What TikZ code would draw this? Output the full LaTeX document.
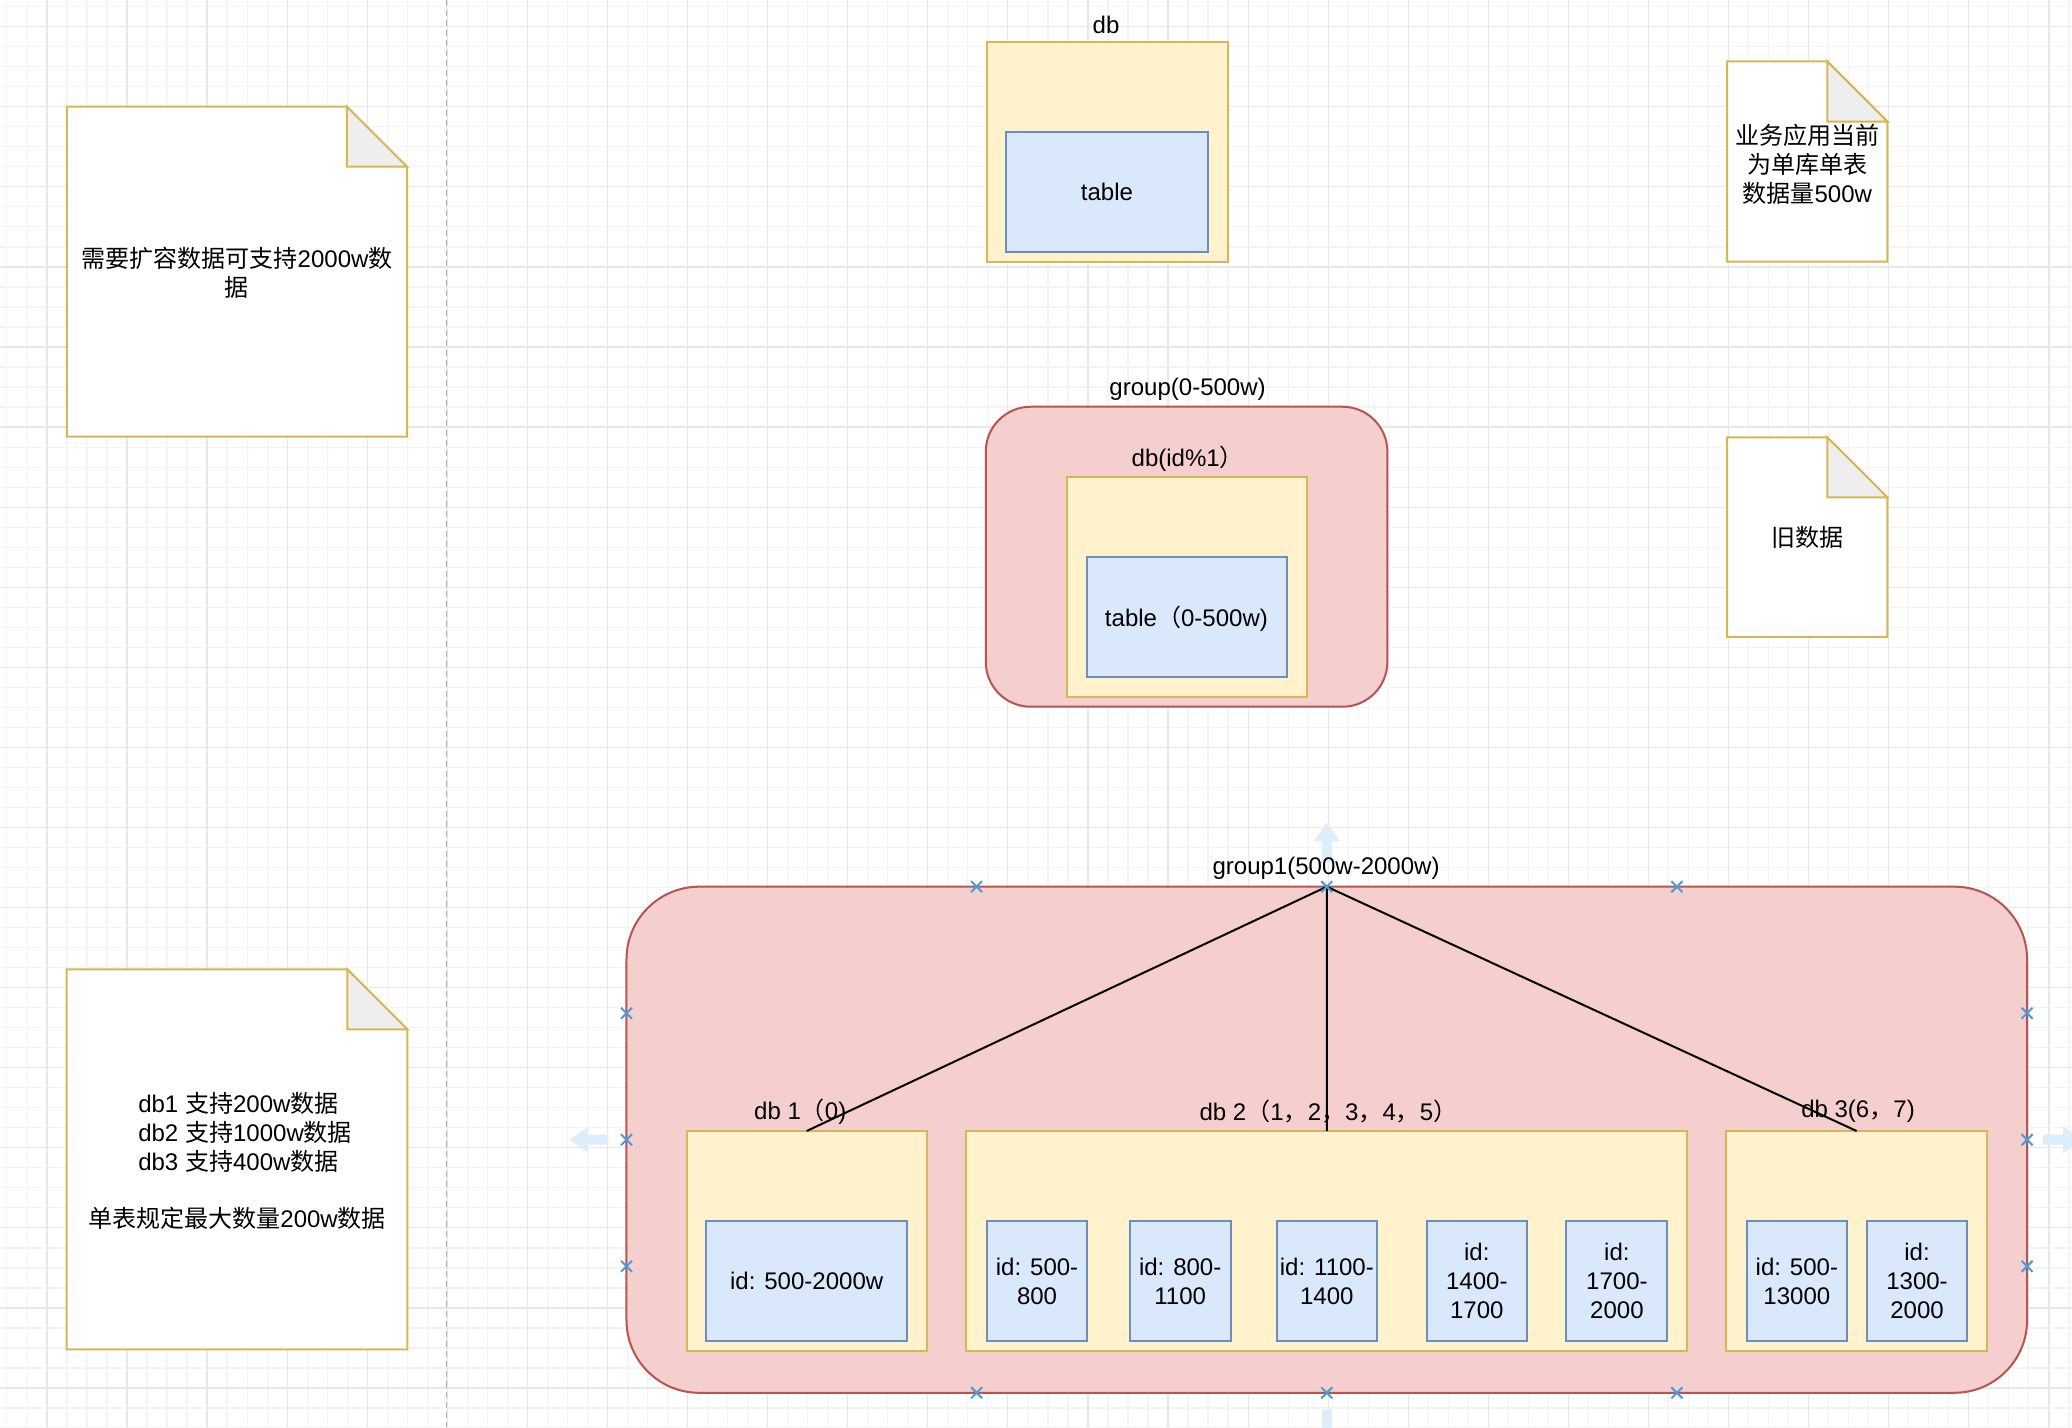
\documentclass[tikz,border=0pt]{standalone}
\usepackage{fontspec}
\setmainfont{Liberation Sans}
\newfontfamily\cjk{Noto Sans CJK SC}
\usetikzlibrary{shapes.misc,calc}
\definecolor{yfill}{HTML}{FFF2CC}
\definecolor{ystroke}{HTML}{D6B656}
\definecolor{bfill}{HTML}{DAE8FC}
\definecolor{bstroke}{HTML}{6C8EBF}
\definecolor{rfill}{HTML}{F4CFCD}
\definecolor{rstroke}{HTML}{B85450}
\definecolor{foldgray}{HTML}{EEEEEE}
\definecolor{gminorc}{HTML}{F4F4F4}
\definecolor{gmajorc}{HTML}{E8E8E8}
\definecolor{dashc}{HTML}{ADADAD}
\definecolor{xblue}{HTML}{4A9BDB}
\definecolor{hblue}{HTML}{DCEEFB}
\newcommand\zh[1]{{\cjk #1}}
\newcommand\notebox[1]{%
  \filldraw[notebody] (#1.south west) -- (#1.north west) -- ([xshift=-30pt]#1.north east)
     -- ([yshift=-30pt]#1.north east) -- (#1.south east) -- cycle;
  \filldraw[notefold] ([xshift=-30pt]#1.north east) -- ([xshift=-30pt,yshift=-30pt]#1.north east)
     -- ([yshift=-30pt]#1.north east) -- cycle;}
\begin{document}
\begin{tikzpicture}[x=0.66pt,y=-0.66pt,
  every node/.style={inner sep=0pt, outer sep=0pt, font=\fontsize{12}{14.4}\selectfont},
  sz/.style 2 args={minimum width=#1*0.66pt, minimum height=#2*0.66pt},
  ybox/.style={rectangle, draw=ystroke, fill=yfill, line width=1pt},
  bbox/.style={rectangle, draw=bstroke, fill=bfill, line width=1pt, align=center},
  rbox/.style={rectangle, draw=rstroke, fill=rfill, line width=1pt, rounded corners=#1},
  notebody/.style={fill=white, draw=ystroke, line width=1pt},
  notefold/.style={fill=foldgray, draw=ystroke, line width=1pt},
  txt/.style={align=center},
  lbl/.style={align=center},
  conn/.style={draw=black, line width=1pt},
  gminor/.style={draw=gminorc, line width=0.6pt},
  gmajor/.style={draw=gmajorc, line width=0.6pt},
  dashln/.style={draw=dashc, line width=0.8pt, dash pattern=on 3pt off 2pt},
  xmark/.style={cross out, draw=xblue, line width=1pt, minimum size=5.5pt, inner sep=0pt},
  hover/.pic={\fill[hblue] (-2.5pt,0) -- (-2.5pt,10pt) -- (-6.6pt,10pt) -- (0,19.5pt)
      -- (6.6pt,10pt) -- (2.5pt,10pt) -- (2.5pt,0) -- cycle;}
]
\useasboundingbox (0,0) rectangle (1568,1080);
\fill[white] (0,0) rectangle (1568,1080);
% grid
\foreach \i in {-3,...,101} {\draw[gminor] ({35.5+15.15*\i},0) -- ({35.5+15.15*\i},1080);}
\foreach \j in {-2,...,70} {\draw[gminor] (0,{20.2+15.15*\j}) -- (1568,{20.2+15.15*\j});}
\foreach \i in {-1,...,25} {\draw[gmajor] ({35.5+60.6*\i},0) -- ({35.5+60.6*\i},1080);}
\foreach \j in {0,...,17} {\draw[gmajor] (0,{20.2+60.6*\j}) -- (1568,{20.2+60.6*\j});}
% dashed separator
\coordinate (dtop) at (338,0);
\coordinate (dbot) at (338,1080);
\draw[dashln] (dtop) -- (dbot);

% notes
\node[sz={257.3}{249.8}] (doc1) at (179.35,205.6) {};
\notebox{doc1}
\node[txt] (doc1t) at (179.35,206.5) {\zh{需要扩容数据可支持}2000w\zh{数}\\\zh{据}};

\node[sz={257.8}{287.5}] (doc4) at (179.4,877.35) {};
\notebox{doc4}
\node[txt] (doc4t) at (179.4,878.6) {\makebox[98.7pt][l]{db1 \zh{支持}200w\zh{数据}}\\
  \makebox[98.7pt][l]{db2 \zh{支持}1000w\zh{数据}}\\
  \makebox[98.7pt][l]{db3 \zh{支持}400w\zh{数据}}\\[14.4pt]
  \zh{单表规定最大数量}200w\zh{数据}};

\node[sz={121.3}{151.5}] (doc2) at (1367.65,122.25) {};
\notebox{doc2}
\node[txt] (doc2t) at (1367.65,124.5) {\zh{业务应用当前}\\\zh{为单库单表}\\\zh{数据量}500w};

\node[sz={121.3}{151}] (doc3) at (1367.65,406.5) {};
\notebox{doc3}
\node[txt] (doc3t) at (doc3.center) {\zh{旧数据}};

% single db
\node[ybox, sz={182.5}{166.5}] (db0) at (837.85,114.75) {};
\node[bbox, sz={152.4}{91.3}] (tbl0) at (837.7,145.25) {table};
\node[lbl] (ldb0) at (837,18.9) {db};

% group(0-500w)
\node[rbox=22.4pt, sz={303.9}{227}] (grp0) at (897.95,421.3) {};
\node[ybox, sz={182.2}{167}] (dbm) at (898.3,444.2) {};
\node[bbox, sz={151.8}{91.3}] (tblm) at (898.3,466.95) {};
\node[lbl, anchor=west] (ltblm) at (836.2,467.9) {table\zh{（}0-500w)};
\node[lbl] (lgrp0) at (898.7,294.6) {group(0-500w)};
\node[lbl, anchor=west] (ldbm) at (856.4,346.9) {db(id\%1\zh{）}};

% group1
\node[rbox=36.3pt, sz={1059.9}{383}] (g1) at (1004.05,862.5) {};
% hover arrows (under the labels)
\pic at ([yshift=12.5pt]g1.north) {hover};
\pic[rotate=90] at ([xshift=-9pt]g1.west) {hover};
\pic[rotate=-90] at ([xshift=8pt]g1.east) {hover};
\pic[rotate=180] at ([yshift=-8.3pt]g1.south) {hover};
\node[lbl] (lg1) at (1003.5,657) {group1(500w-2000w)};

\node[ybox, sz={181.5}{166.8}] (db1) at (610.45,939.3) {};
\node[bbox, sz={152.1}{90.8}] (id1) at (610.45,969.5) {id: 500-2000w};

\node[ybox, sz={545.7}{166.8}] (db2) at (1004.15,939.3) {};
\node[bbox, sz={76}{90.8}] (id2a) at (784.8,969.5) {id: 500-\\800};
\node[bbox, sz={76.4}{90.8}] (id2b) at (893.1,969.5) {id: 800-\\1100};
\node[bbox, sz={76}{90.8}] (id2c) at (1004.1,969.5) {id: 1100-\\1400};
\node[bbox, sz={76}{90.8}] (id2d) at (1117.6,969.5) {id:\\1400-\\1700};
\node[bbox, sz={76.4}{90.8}] (id2e) at (1223.6,969.5) {id:\\1700-\\2000};

\node[ybox, sz={197.1}{166.8}] (db3) at (1405.05,939.3) {};
\node[bbox, sz={76}{90.8}] (id3a) at (1359.8,969.5) {id: 500-\\13000};
\node[bbox, sz={76}{90.8}] (id3b) at (1450.7,969.5) {id:\\1300-\\2000};

\node[lbl, anchor=west] (ldb1) at (570.7,841.3) {db 1\zh{（}0)};
\node[lbl, anchor=west] (ldb2) at (907.8,841.3) {db 2\zh{（}1\zh{，}2\zh{，}3\zh{，}4\zh{，}5\zh{）}};
\node[lbl, anchor=west] (ldb3) at (1363.1,841.3) {db 3(6\zh{，}7)};

% connectors
\draw[conn] (g1.north) -- (db1.north);
\draw[conn] (g1.north) -- (db2.north);
\draw[conn] (g1.north) -- (db3.north);

% connection point markers
\foreach \t/\k in {0.25/a,0.5/b,0.75/c} {
  \node[xmark] (mkt\k) at ($(g1.north west)!\t!(g1.north east)$) {};
  \node[xmark] (mkb\k) at ($(g1.south west)!\t!(g1.south east)$) {};
  \node[xmark] (mkl\k) at ($(g1.north west)!\t!(g1.south west)$) {};
  \node[xmark] (mkr\k) at ($(g1.north east)!\t!(g1.south east)$) {};
}
\end{tikzpicture}
\end{document}
